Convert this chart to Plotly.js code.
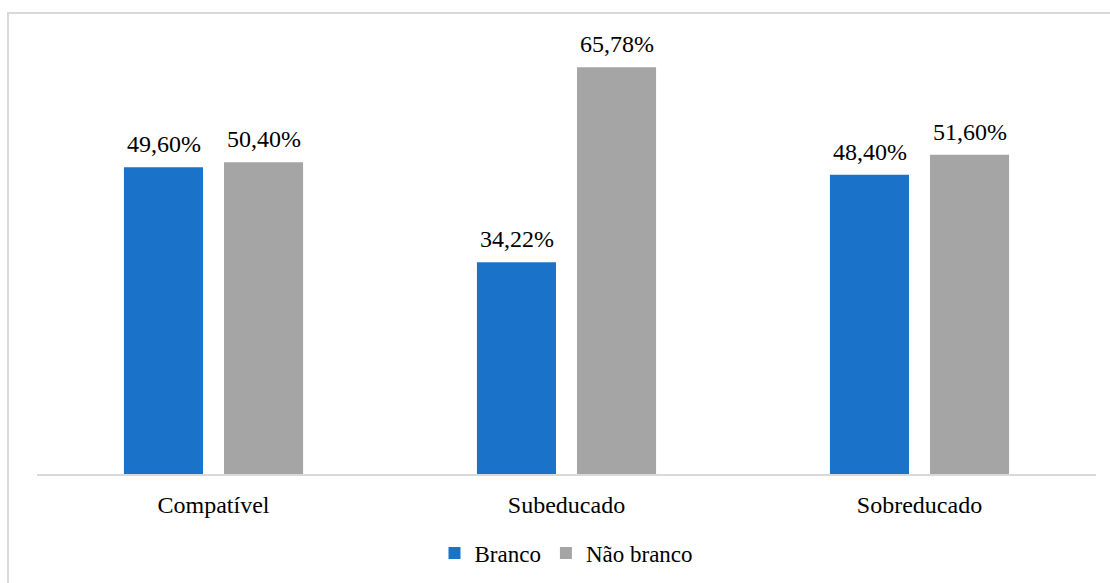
<!DOCTYPE html>
<html>
<head>
<meta charset="utf-8">
<script src="https://cdn.plot.ly/plotly-3.0.1.min.js"></script>
<style>
html,body{margin:0;padding:0;background:#fff;}
#wrap{position:relative;width:1110px;height:583px;}
#chart{position:absolute;left:0;top:0;width:1110px;height:583px;}
#frame{position:absolute;left:7px;top:12px;width:1110px;height:600px;border:2px solid #d9d9d9;pointer-events:none;box-sizing:border-box;}
#chart text{font-family:'Liberation Serif','Times New Roman',serif !important;}
</style>
</head>
<body>
<div id="wrap"><div id="chart"></div><div id="frame"></div></div>
<script>
var categories = ["Compatível", "Subeducado", "Sobreducado"];
var branco = [49.60, 34.22, 48.40];
var naoBranco = [50.40, 65.78, 51.60];
var seriesNames = ["Branco", "Não branco"];

function fmt(v){ return v.toFixed(2).replace(".", ",") + "%"; }
var font = "Liberation Serif";

var traces = [
  {type:"bar", name:seriesNames[0], x:categories, y:branco,
   marker:{color:"#1b72c9"}, hoverinfo:"none"},
  {type:"bar", name:seriesNames[1], x:categories, y:naoBranco,
   marker:{color:"#a5a5a5"}, hoverinfo:"none"}
];

var annotations = [];
[branco, naoBranco].forEach(function(arr, si){
  arr.forEach(function(v, i){
    annotations.push({x:categories[i], y:v, xref:"x", yref:"y", text:fmt(v),
      showarrow:false, yanchor:"bottom", yshift:8, xshift:(si===0?-50:50),
      font:{family:font, size:24, color:"#000"}});
  });
});

var layout = {
  width:1110, height:583,
  margin:{l:37, r:14, t:20, b:109, autoexpand:false},
  paper_bgcolor:"rgba(0,0,0,0)", plot_bgcolor:"rgba(0,0,0,0)",
  barmode:"group", bargap:0.433, bargroupgap:0.21,
  font:{family:font, size:24, color:"#000"},
  xaxis:{showline:true, linecolor:"#d9d9d9", linewidth:2, ticks:"", showgrid:false,
         ticklabelstandoff:8, automargin:false,
         tickfont:{family:font, size:24, color:"#000"}},
  yaxis:{range:[0,73.4], visible:false, showgrid:false, zeroline:false, automargin:false},
  annotations:annotations,
  showlegend:true,
  legend:{orientation:"h", x:0.5, xanchor:"center", y:-0.174, yanchor:"middle",
          font:{family:font, size:23, color:"#000"}, itemwidth:30, traceorder:"normal"}
};

Plotly.newPlot("chart", traces, layout, {displayModeBar:false, staticPlot:true});
</script>
</body>
</html>
